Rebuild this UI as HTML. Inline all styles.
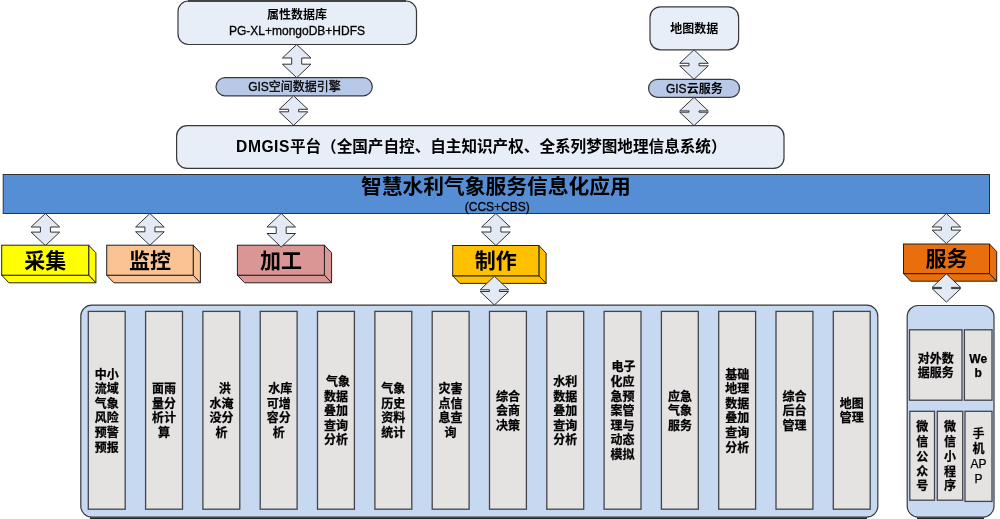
<!DOCTYPE html>
<html lang="zh-CN"><head><meta charset="utf-8"><title>智慧水利气象服务信息化应用</title>
<style>
html,body{margin:0;padding:0;background:#fff;}
body{width:1000px;height:519px;overflow:hidden;}
svg{display:block;will-change:transform;}
svg text{font-family:"Liberation Sans","Noto Sans CJK SC",sans-serif;fill:#000;}
svg text.r{stroke:#000;stroke-width:0.3px;}
svg text.b{stroke:#000;stroke-width:0.25px;}
</style></head><body>
<svg width="1000" height="519" viewBox="0 0 1000 519">

<rect x="178" y="1" width="238.5" height="43.5" rx="10.5" fill="#E8EEF7" stroke="#383838" stroke-width="1.2"/>
<rect x="188" y="0" width="218" height="2" fill="#444"/>
<text x="297" y="19" font-size="12" font-weight="bold" text-anchor="middle">属性数据库</text>
<text class="r" x="297" y="34.5" font-size="12" text-anchor="middle">PG-XL+mongoDB+HDFS</text>
<path d="M296.7,44.5 L311.0,58.0 L301.7,58.0 L301.7,64.2 L311.0,64.2 L296.7,77.7 L282.4,64.2 L291.7,64.2 L291.7,58.0 L282.4,58.0Z" fill="#E3EAF6" stroke="#333" stroke-width="1"/>
<rect x="216" y="77.7" width="156.3" height="18.1" rx="9" fill="#B7C9E6" stroke="#383838" stroke-width="1.2"/>
<text class="r" x="294.5" y="91.4" font-size="12" text-anchor="middle">GIS空间数据引擎</text>
<path d="M293.6,95.8 L307.9,109.3 L298.6,109.3 L298.6,111.8 L307.9,111.8 L293.6,125.3 L279.3,111.8 L288.6,111.8 L288.6,109.3 L279.3,109.3Z" fill="#E3EAF6" stroke="#333" stroke-width="1"/>
<rect x="650" y="6.8" width="88.6" height="43" rx="10.5" fill="#E8EEF7" stroke="#383838" stroke-width="1.2"/>
<text x="694.3" y="33.4" font-size="12" font-weight="bold" text-anchor="middle">地图数据</text>
<path d="M694.0,49.8 L708.3,63.3 L699.0,63.3 L699.0,65.8 L708.3,65.8 L694.0,79.3 L679.7,65.8 L689.0,65.8 L689.0,63.3 L679.7,63.3Z" fill="#E3EAF6" stroke="#333" stroke-width="1"/>
<rect x="648.6" y="79.3" width="90.9" height="18.1" rx="9" fill="#B7C9E6" stroke="#383838" stroke-width="1.2"/>
<text x="694.3" y="92.8" font-size="12" text-anchor="middle"><tspan class="r" style="stroke:#000;stroke-width:0.3px">GIS</tspan><tspan font-weight="bold">云服务</tspan></text>
<path d="M694.0,97.4 L708.3,110.9 L699.0,110.9 L699.0,112.2 L708.3,112.2 L694.0,125.7 L679.7,112.2 L689.0,112.2 L689.0,110.9 L679.7,110.9Z" fill="#E3EAF6" stroke="#333" stroke-width="1"/>
<rect x="176.6" y="125.7" width="607.4" height="42.7" rx="10.5" fill="#E8EEF7" stroke="#383838" stroke-width="1.2"/>
<text x="236.1" y="152.4" font-size="15.6" font-weight="bold" textLength="53.2" lengthAdjust="spacing">DMGIS</text>
<text id="plat" x="289.9" y="152.4" font-size="15.6" font-weight="bold">平台（全国产自控、自主知识产权、全系列梦图地理信息系统）</text>
<rect x="3.2" y="174.5" width="986.3" height="39" fill="#558ED5" stroke="#333" stroke-width="1"/>
<text x="496" y="194.2" font-size="20.75" font-weight="bold" text-anchor="middle">智慧水利气象服务信息化应用</text>
<text class="r" x="497.3" y="211" font-size="12" text-anchor="middle">(CCS+CBS)</text>
<path d="M45.4,213.5 L59.7,227.0 L50.4,227.0 L50.4,232.1 L59.7,232.1 L45.4,245.6 L31.1,232.1 L40.4,232.1 L40.4,227.0 L31.1,227.0Z" fill="#E3EAF6" stroke="#333" stroke-width="1"/>
<path d="M149.9,213.5 L164.2,227.0 L154.9,227.0 L154.9,231.8 L164.2,231.8 L149.9,245.3 L135.6,231.8 L144.9,231.8 L144.9,227.0 L135.6,227.0Z" fill="#E3EAF6" stroke="#333" stroke-width="1"/>
<path d="M495.9,213.5 L510.2,227.0 L500.9,227.0 L500.9,232.0 L510.2,232.0 L495.9,245.5 L481.6,232.0 L490.9,232.0 L490.9,227.0 L481.6,227.0Z" fill="#E3EAF6" stroke="#333" stroke-width="1"/>
<polygon points="88.7,245.2 95.9,252.79999999999998 95.9,282.8 88.7,275.2" fill="#FFFF00" stroke="#222" stroke-width="1" stroke-linejoin="round"/>
<polygon points="1.7,275.2 88.7,275.2 95.9,282.8 8.9,282.8" fill="#FFFF00" stroke="#222" stroke-width="1" stroke-linejoin="round"/>
<rect x="1.7" y="245.2" width="87" height="30" fill="#FFFF00" stroke="#222" stroke-width="1"/>
<text x="45.2" y="267.8" font-size="21" font-weight="bold" text-anchor="middle">采集</text>
<polygon points="193.2,245.2 200.39999999999998,252.79999999999998 200.39999999999998,282.8 193.2,275.2" fill="#FAC394" stroke="#222" stroke-width="1" stroke-linejoin="round"/>
<polygon points="106.7,275.2 193.2,275.2 200.39999999999998,282.8 113.9,282.8" fill="#FAC394" stroke="#222" stroke-width="1" stroke-linejoin="round"/>
<rect x="106.7" y="245.2" width="86.5" height="30" fill="#FAC394" stroke="#222" stroke-width="1"/>
<text x="149.95" y="267.8" font-size="21" font-weight="bold" text-anchor="middle">监控</text>
<polygon points="324.4,245.2 331.59999999999997,252.79999999999998 331.59999999999997,282.8 324.4,275.2" fill="#DA9896" stroke="#222" stroke-width="1" stroke-linejoin="round"/>
<polygon points="237.4,275.2 324.4,275.2 331.59999999999997,282.8 244.6,282.8" fill="#D99694" stroke="#222" stroke-width="1" stroke-linejoin="round"/>
<rect x="237.4" y="245.2" width="87" height="30" fill="#D99694" stroke="#222" stroke-width="1"/>
<text x="280.9" y="267.8" font-size="21" font-weight="bold" text-anchor="middle">加工</text>
<polygon points="538.9,245.5 546.1,253.1 546.1,283.40000000000003 538.9,275.8" fill="#FFC000" stroke="#222" stroke-width="1" stroke-linejoin="round"/>
<polygon points="452.7,275.8 538.9,275.8 546.1,283.40000000000003 459.9,283.40000000000003" fill="#FFC000" stroke="#222" stroke-width="1" stroke-linejoin="round"/>
<rect x="452.7" y="245.5" width="86.2" height="30.3" fill="#FFC000" stroke="#222" stroke-width="1"/>
<text x="495.8" y="268.25" font-size="21" font-weight="bold" text-anchor="middle">制作</text>
<polygon points="989.5,244 996.7,251.6 996.7,281.20000000000005 989.5,273.6" fill="#E96F0E" stroke="#222" stroke-width="1" stroke-linejoin="round"/>
<polygon points="903.5,273.6 989.5,273.6 996.7,281.20000000000005 910.7,281.20000000000005" fill="#E96F0E" stroke="#222" stroke-width="1" stroke-linejoin="round"/>
<rect x="903.5" y="244" width="86" height="29.6" fill="#E96F0E" stroke="#222" stroke-width="1"/>
<text x="946.5" y="266.40000000000003" font-size="21" font-weight="bold" text-anchor="middle">服务</text>
<path d="M281.2,213.5 L295.5,227.0 L286.2,227.0 L286.2,233.5 L295.5,233.5 L281.2,247.0 L266.9,233.5 L276.2,233.5 L276.2,227.0 L266.9,227.0Z" fill="#E3EAF6" stroke="#333" stroke-width="1"/>
<path d="M946.4,213.5 L960.7,227.0 L951.4,227.0 L951.4,230.1 L960.7,230.1 L946.4,243.6 L932.1,230.1 L941.4,230.1 L941.4,227.0 L932.1,227.0Z" fill="#E3EAF6" stroke="#333" stroke-width="1"/>
<path d="M494.4,276.3 L508.7,289.8 L499.4,289.8 L499.4,291.5 L508.7,291.5 L494.4,305.0 L480.1,291.5 L489.4,291.5 L489.4,289.8 L480.1,289.8Z" fill="#E3EAF6" stroke="#333" stroke-width="1"/>
<path d="M946.4,273.9 L960.7,287.4 L951.4,287.4 L951.4,288.6 L960.7,288.6 L946.4,302.1 L932.1,288.6 L941.4,288.6 L941.4,287.4 L932.1,287.4Z" fill="#E3EAF6" stroke="#333" stroke-width="1"/>
<rect x="80.8" y="305.1" width="797" height="212" rx="11" fill="#C6D9F1" stroke="#3a3a3a" stroke-width="1.2"/>
<rect x="90" y="517.5" width="777" height="1.5" fill="#2a2a2a"/>
<rect x="88.3" y="311.4" width="36.9" height="197.8" fill="#E5E2E2" stroke="#42464c" stroke-width="1.3"/>
<text class="b" font-size="12" font-weight="bold" text-anchor="middle"><tspan x="106.8" y="378.6">中小</tspan><tspan x="106.8" y="393.2">流域</tspan><tspan x="106.8" y="407.8">气象</tspan><tspan x="106.8" y="422.4">风险</tspan><tspan x="106.8" y="437.0">预警</tspan><tspan x="106.8" y="451.6">预报</tspan></text>
<rect x="145.6" y="311.4" width="36.9" height="197.8" fill="#E5E2E2" stroke="#42464c" stroke-width="1.3"/>
<text class="b" font-size="12" font-weight="bold" text-anchor="middle"><tspan x="164.1" y="393.2">面雨</tspan><tspan x="164.1" y="407.8">量分</tspan><tspan x="164.1" y="422.4">析计</tspan><tspan x="164.1" y="437.0">算</tspan></text>
<rect x="202.9" y="311.4" width="36.9" height="197.8" fill="#E5E2E2" stroke="#42464c" stroke-width="1.3"/>
<text class="b" font-size="12" font-weight="bold" text-anchor="middle"><tspan x="224.7" y="393.2">洪</tspan><tspan x="221.4" y="407.8">水淹</tspan><tspan x="221.4" y="422.4">没分</tspan><tspan x="221.4" y="437.0">析</tspan></text>
<rect x="260.2" y="311.4" width="36.9" height="197.8" fill="#E5E2E2" stroke="#42464c" stroke-width="1.3"/>
<text class="b" font-size="12" font-weight="bold" text-anchor="middle"><tspan x="280.2" y="393.2">水库</tspan><tspan x="278.7" y="407.8">可增</tspan><tspan x="278.7" y="422.4">容分</tspan><tspan x="278.7" y="437.0">析</tspan></text>
<rect x="317.5" y="311.4" width="36.9" height="197.8" fill="#E5E2E2" stroke="#42464c" stroke-width="1.3"/>
<text class="b" font-size="12" font-weight="bold" text-anchor="middle"><tspan x="338.0" y="385.9">气象</tspan><tspan x="336.0" y="400.5">数据</tspan><tspan x="336.0" y="415.1">叠加</tspan><tspan x="336.0" y="429.7">查询</tspan><tspan x="336.0" y="444.3">分析</tspan></text>
<rect x="374.9" y="311.4" width="36.9" height="197.8" fill="#E5E2E2" stroke="#42464c" stroke-width="1.3"/>
<text class="b" font-size="12" font-weight="bold" text-anchor="middle"><tspan x="393.3" y="393.2">气象</tspan><tspan x="393.3" y="407.8">历史</tspan><tspan x="393.3" y="422.4">资料</tspan><tspan x="393.3" y="437.0">统计</tspan></text>
<rect x="432.2" y="311.4" width="36.9" height="197.8" fill="#E5E2E2" stroke="#42464c" stroke-width="1.3"/>
<text class="b" font-size="12" font-weight="bold" text-anchor="middle"><tspan x="450.6" y="393.2">灾害</tspan><tspan x="450.6" y="407.8">点信</tspan><tspan x="450.6" y="422.4">息查</tspan><tspan x="450.6" y="437.0">询</tspan></text>
<rect x="489.5" y="311.4" width="36.9" height="197.8" fill="#E5E2E2" stroke="#42464c" stroke-width="1.3"/>
<text class="b" font-size="12" font-weight="bold" text-anchor="middle"><tspan x="507.9" y="400.5">综合</tspan><tspan x="507.9" y="415.1">会商</tspan><tspan x="507.9" y="429.7">决策</tspan></text>
<rect x="546.8" y="311.4" width="36.9" height="197.8" fill="#E5E2E2" stroke="#42464c" stroke-width="1.3"/>
<text class="b" font-size="12" font-weight="bold" text-anchor="middle"><tspan x="565.2" y="385.9">水利</tspan><tspan x="565.2" y="400.5">数据</tspan><tspan x="565.2" y="415.1">叠加</tspan><tspan x="565.2" y="429.7">查询</tspan><tspan x="565.2" y="444.3">分析</tspan></text>
<rect x="604.1" y="311.4" width="36.9" height="197.8" fill="#E5E2E2" stroke="#42464c" stroke-width="1.3"/>
<text class="b" font-size="12" font-weight="bold" text-anchor="middle"><tspan x="623.5" y="371.3">电子</tspan><tspan x="622.5" y="385.9">化应</tspan><tspan x="622.5" y="400.5">急预</tspan><tspan x="622.5" y="415.1">案管</tspan><tspan x="622.5" y="429.7">理与</tspan><tspan x="622.5" y="444.3">动态</tspan><tspan x="622.5" y="458.9">模拟</tspan></text>
<rect x="661.4" y="311.4" width="36.9" height="197.8" fill="#E5E2E2" stroke="#42464c" stroke-width="1.3"/>
<text class="b" font-size="12" font-weight="bold" text-anchor="middle"><tspan x="679.9" y="400.5">应急</tspan><tspan x="679.9" y="415.1">气象</tspan><tspan x="679.9" y="429.7">服务</tspan></text>
<rect x="718.7" y="311.4" width="36.9" height="197.8" fill="#E5E2E2" stroke="#42464c" stroke-width="1.3"/>
<text class="b" font-size="12" font-weight="bold" text-anchor="middle"><tspan x="737.2" y="378.6">基础</tspan><tspan x="737.2" y="393.2">地理</tspan><tspan x="737.2" y="407.8">数据</tspan><tspan x="737.2" y="422.4">叠加</tspan><tspan x="737.2" y="437.0">查询</tspan><tspan x="737.2" y="451.6">分析</tspan></text>
<rect x="776.0" y="311.4" width="36.9" height="197.8" fill="#E5E2E2" stroke="#42464c" stroke-width="1.3"/>
<text class="b" font-size="12" font-weight="bold" text-anchor="middle"><tspan x="794.5" y="400.5">综合</tspan><tspan x="794.5" y="415.1">后台</tspan><tspan x="794.5" y="429.7">管理</tspan></text>
<rect x="833.3" y="311.4" width="36.9" height="197.8" fill="#E5E2E2" stroke="#42464c" stroke-width="1.3"/>
<text class="b" font-size="12" font-weight="bold" text-anchor="middle"><tspan x="851.8" y="407.8">地图</tspan><tspan x="851.8" y="422.4">管理</tspan></text>
<rect x="907.2" y="305.5" width="86.8" height="211.6" rx="11" fill="#C6D9F1" stroke="#3a3a3a" stroke-width="1.2"/>
<rect x="917" y="517.5" width="67" height="1.5" fill="#2a2a2a"/>
<rect x="909.5" y="329.8" width="52.5" height="70.4" fill="#E5E2E2" stroke="#42464c" stroke-width="1.3"/>
<text class="b" font-size="12" font-weight="bold" text-anchor="middle"><tspan x="935.7" y="362.5">对外数</tspan><tspan x="935.7" y="377.1">据服务</tspan></text>
<rect x="964.4" y="329.8" width="27.6" height="70.4" fill="#E5E2E2" stroke="#42464c" stroke-width="1.3"/>
<text class="b" font-size="12" font-weight="bold" text-anchor="middle"><tspan x="978.2" y="362.5">We</tspan><tspan x="978.2" y="377.1">b</tspan></text>
<rect x="909.8" y="411.3" width="24.7" height="88.9" fill="#E5E2E2" stroke="#42464c" stroke-width="1.3"/>
<text class="b" font-size="12" font-weight="bold" text-anchor="middle"><tspan x="922.2" y="430.8">微</tspan><tspan x="922.2" y="445.7">信</tspan><tspan x="922.2" y="460.6">公</tspan><tspan x="922.2" y="475.5">众</tspan><tspan x="922.2" y="490.4">号</tspan></text>
<rect x="937.3" y="411.3" width="25.4" height="88.9" fill="#E5E2E2" stroke="#42464c" stroke-width="1.3"/>
<text class="b" font-size="12" font-weight="bold" text-anchor="middle"><tspan x="950.0" y="430.8">微</tspan><tspan x="950.0" y="445.7">信</tspan><tspan x="950.0" y="460.6">小</tspan><tspan x="950.0" y="475.5">程</tspan><tspan x="950.0" y="490.4">序</tspan></text>
<rect x="965" y="411.3" width="27.0" height="90.1" fill="#E5E2E2" stroke="#42464c" stroke-width="1.3"/>
<text class="b" font-size="12" font-weight="bold" text-anchor="middle"><tspan x="978.5" y="438.3" font-weight="500">手</tspan><tspan x="978.5" y="453.2">机</tspan><tspan x="978.5" y="468.1" font-weight="normal">AP</tspan><tspan x="978.5" y="483.0" font-weight="normal">P</tspan></text>
</svg></body></html>
